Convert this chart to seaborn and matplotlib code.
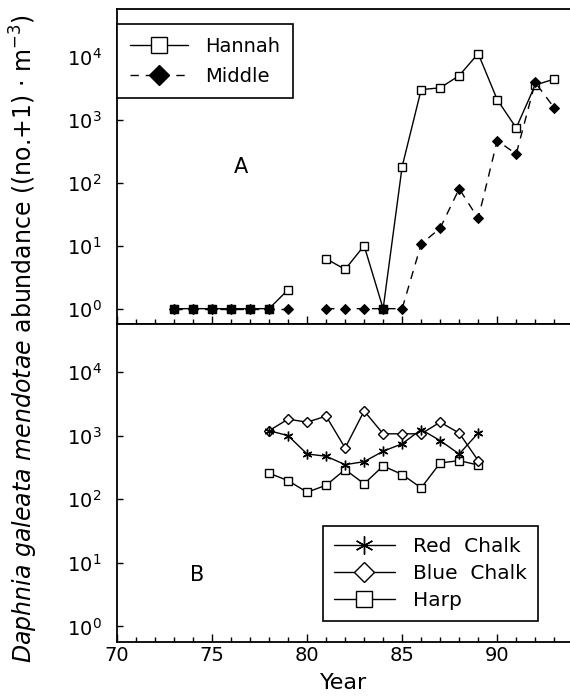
import numpy as np
import pandas as pd
import matplotlib
matplotlib.use("Agg")
import matplotlib.pyplot as plt
from matplotlib.lines import Line2D
from matplotlib.ticker import LogFormatterSciNotation, MultipleLocator, NullLocator
import seaborn as sns

# ---- data -------------------------------------------------------------
years_a = [73, 74, 75, 76, 77, 78, 79, 80, 81, 82, 83, 84, 85,
           86, 87, 88, 89, 90, 91, 92, 93]
hannah = [1, 1, 1, 1, 1, 1, 2.0, np.nan, 6.2, 4.2, 10, 1, 180,
          3000, 3200, 5000, 11200, 2080, 740, 3550, 4400]
middle = [1, 1, 1, 1, 1, 1, 1, np.nan, 1, 1, 1, 1, 1,
          10.6, 19, 80, 27, 465, 285, 3900, 1540]

years_b = [78, 79, 80, 81, 82, 83, 84, 85, 86, 87, 88, 89]
red_chalk = [1200, 1000, 515, 475, 350, 390, 570, 745, 1250, 835, 515, 1100]
blue_chalk = [1200, 1820, 1630, 2030, 640, 2450, 1070, 1070, 1070, 1630, 1100, 405]
harp = [257, 196, 129, 166, 293, 175, 334, 245, 151, 372, 405, 345]

x_ticks = [70, 75, 80, 85, 90]
y_ticks = [1, 10, 100, 1000, 10000]

# ---- style ------------------------------------------------------------
sns.set_theme(style="ticks")
plt.rcParams["font.family"] = ["DejaVu Sans"]
plt.rcParams["mathtext.fontset"] = "dejavusans"
for key in ("text.color", "axes.labelcolor", "xtick.color", "ytick.color",
            "axes.edgecolor"):
    plt.rcParams[key] = "black"

FS_TICK = 14
FS_LEG = 14
FS_LAB = 17

fig = plt.figure(figsize=(5.7, 7.0), dpi=100)
ax_a = fig.add_axes([0.2053, 0.537, 0.7947, 0.450])
ax_b = fig.add_axes([0.2053, 0.0829, 0.7947, 0.4541])


def segments(years, values):
    """Long table with a segment id so that missing years break the line."""
    df = pd.DataFrame({"year": years, "value": values})
    df["segment"] = df["value"].isna().cumsum()
    return df.dropna()


line_kw = dict(color="black", linewidth=1.0, estimator=None, legend=False)

# Panel A: Hannah and Middle lakes
df_h = segments(years_a, hannah)
df_m = segments(years_a, middle)
sns.lineplot(data=df_h, x="year", y="value", units="segment", ax=ax_a,
             marker="s", markersize=5.5, markerfacecolor="white",
             markeredgecolor="black", markeredgewidth=1.0, **line_kw)
both = pd.merge(df_h, df_m, on="year", suffixes=("_h", "_m"))
both = both[both["value_h"] == both["value_m"]]
sns.scatterplot(data=both, x="year", y="value_h", ax=ax_a, marker="s",
                s=32, color="black", edgecolor="black", linewidth=0.8,
                legend=False, zorder=3)
sns.lineplot(data=df_m, x="year", y="value", units="segment", ax=ax_a,
             marker="D", markersize=5, markerfacecolor="black",
             markeredgecolor="black", linestyle=(0, (6, 5)), **line_kw)

# Panel B: Red Chalk, Blue Chalk and Harp lakes
df_b = pd.DataFrame({"year": years_b, "red": red_chalk,
                     "blue": blue_chalk, "harp": harp})
sns.lineplot(data=df_b, x="year", y="harp", ax=ax_b, marker="s",
             markersize=5.5, markerfacecolor="white", markeredgecolor="black",
             markeredgewidth=1.0, **line_kw)
sns.lineplot(data=df_b, x="year", y="blue", ax=ax_b, marker="D",
             markersize=5, markerfacecolor="white", markeredgecolor="black",
             markeredgewidth=1.0, **line_kw)
sns.lineplot(data=df_b, x="year", y="red", ax=ax_b, marker=(6, 2, 0),
             markersize=7, markeredgecolor="black", markeredgewidth=1.0,
             **line_kw)

# ---- axes -------------------------------------------------------------
for ax in (ax_a, ax_b):
    ax.set_yscale("log")
    ax.set_ylim(10 ** -0.245, 10 ** 4.755)
    ax.set_xlim(70, 93.83)
    ax.set_xticks(x_ticks)
    ax.xaxis.set_minor_locator(MultipleLocator(1))
    ax.set_yticks(y_ticks)
    ax.yaxis.set_major_formatter(LogFormatterSciNotation())
    ax.yaxis.set_minor_locator(NullLocator())
    ax.tick_params(axis="x", which="major", direction="in", length=6,
                   width=1.0, color="black", labelsize=FS_TICK, pad=3)
    ax.tick_params(axis="x", which="minor", direction="in", length=3.5,
                   width=1.0, color="black")
    ax.tick_params(axis="y", which="major", direction="in", length=4.5,
                   width=1.0, color="black", labelsize=FS_TICK, pad=11)
    ax.set_xlabel("")
    ax.set_ylabel("")
    for side in ("left", "top", "bottom"):
        ax.spines[side].set_color("black")
        ax.spines[side].set_linewidth(1.3)
    ax.spines["right"].set_visible(False)
    ax.set_facecolor("white")

ax_a.tick_params(axis="x", labelbottom=False)
ax_b.set_xlabel("Year", fontsize=16, labelpad=6)

ax_a.text(0.274, 0.50, "A", transform=ax_a.transAxes, fontsize=15,
          ha="center", va="center")
ax_b.text(0.177, 0.21, "B", transform=ax_b.transAxes, fontsize=15,
          ha="center", va="center")

# ---- legends ----------------------------------------------------------
leg_kw = dict(frameon=True, fancybox=False, framealpha=1, edgecolor="black",
              fontsize=FS_LEG, handlelength=3.0, handletextpad=0.9,
              labelspacing=0.55, borderpad=0.65, borderaxespad=0)

h_a = [Line2D([], [], color="black", lw=1.0, marker="s", markersize=11,
              markerfacecolor="white", markeredgecolor="black", mew=1.0),
       Line2D([], [], color="black", lw=1.0, ls=(0, (6, 5)), marker="D",
              markersize=10, markerfacecolor="black")]
leg_a = ax_a.legend(h_a, ["Hannah", "Middle"], loc="upper left",
                    bbox_to_anchor=(0.0, 0.952), **leg_kw)
leg_a.get_frame().set_linewidth(1.2)

h_b = [Line2D([], [], color="black", lw=1.0, marker=(6, 2, 0), markersize=13,
              markeredgecolor="black", mew=1.0),
       Line2D([], [], color="black", lw=1.0, marker="D", markersize=10,
              markerfacecolor="white", markeredgecolor="black", mew=1.0),
       Line2D([], [], color="black", lw=1.0, marker="s", markersize=11,
              markerfacecolor="white", markeredgecolor="black", mew=1.0)]
leg_b = ax_b.legend(h_b, ["Red  Chalk", "Blue  Chalk", "Harp"],
                    loc="upper left", bbox_to_anchor=(0.455, 0.365),
                    **dict(leg_kw, labelspacing=0.4, borderpad=0.55,
                           fontsize=14.5))
leg_b.get_frame().set_linewidth(1.2)

fig.text(0.042, 0.517,
         r"$\it{Daphnia\ galeata\ mendotae}$ abundance ((no.+1) $\cdot$ m$^{-3}$)",
         rotation=90, ha="center", va="center", fontsize=FS_LAB)

fig.savefig("out.png", dpi=100, facecolor="white")
